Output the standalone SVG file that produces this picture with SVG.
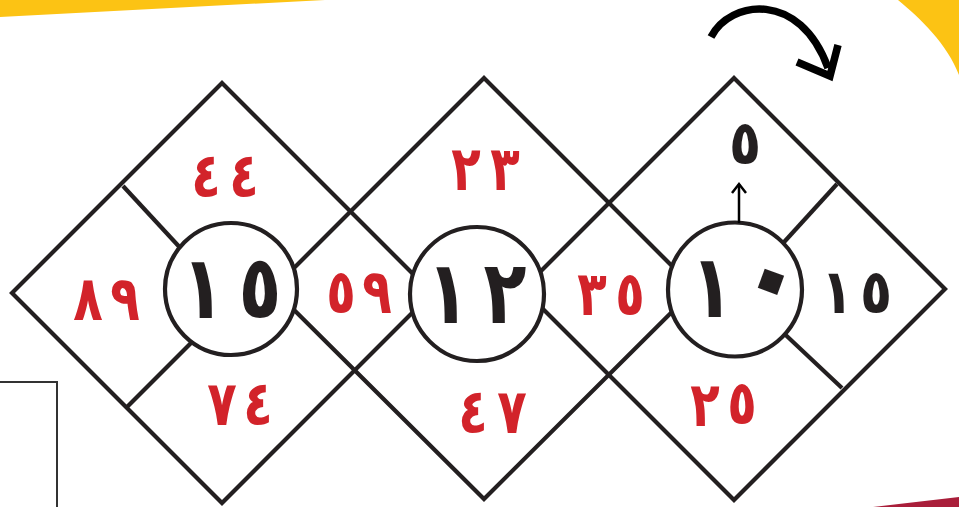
<svg xmlns="http://www.w3.org/2000/svg" width="959" height="507" viewBox="0 0 959 507">
<style>
.edge{fill:none;stroke:#231F20;stroke-width:4.2;stroke-linejoin:miter}
.hub{fill:#fff;stroke:#231F20;stroke-width:4.2}
.r{fill:#D2232A;font-family:"DejaVu Sans",sans-serif;font-weight:bold;font-size:62px;text-anchor:middle}
.b{fill:#231F20;font-family:"DejaVu Sans",sans-serif;font-weight:bold;font-size:88px;text-anchor:middle}
.m{fill:#231F20;font-family:"DejaVu Sans",sans-serif;font-weight:bold;font-size:62px;text-anchor:middle}
</style>
<rect width="959" height="507" fill="#fff"/>
<g id="decor">
<polygon points="0,0 325,0 0,17" fill="#FCC314"/>
<path d="M898,0 C920,18 948,45 959,75 L959,0 Z" fill="#FCC314"/>
<polygon points="873,507 959,497 959,507" fill="#A91E3A"/>
<polyline points="0,382 57,382 57,507" fill="none" stroke="#333" stroke-width="2"/>
</g>
<g id="diamond-1">
<polygon class="edge" points="222,83 432,293 222,503 12,293"/>
<line class="edge" x1="123" y1="186" x2="185" y2="253"/>
<line class="edge" x1="127" y1="407" x2="200" y2="334"/>
</g>
<g id="diamond-2">
<polygon class="edge" points="484,78 695,289 484,499 273,289"/>
</g>
<g id="diamond-3">
<polygon class="edge" points="734,78 945,289 734,500 523,289"/>
<line class="edge" x1="837" y1="184" x2="775" y2="252"/>
<line class="edge" x1="842" y1="388" x2="775" y2="325"/>
</g>
<g id="circle-1">
<circle class="hub" cx="231" cy="289" r="66"/>
<text class="b" transform="translate(203,318) scale(0.8,1)">١</text>
<text class="b" transform="translate(260,318) scale(0.8,1)">٥</text>
</g>
<g id="circle-2">
<circle class="hub" cx="477" cy="294" r="67"/>
<text class="b" transform="translate(448,323) scale(0.8,1)">١</text>
<text class="b" transform="translate(505,323) scale(0.8,1)">٢</text>
</g>
<g id="circle-3">
<circle class="hub" cx="735" cy="289.5" r="67"/>
<text class="b" transform="translate(712,317) scale(0.8,1)">١</text>
<text class="b" transform="translate(769,287) rotate(20) scale(1.35) translate(0,20.6)">٠</text>
</g>
<g id="labels">
<text class="r" transform="translate(206,197) scale(0.78,1)">٤</text>
<text class="r" transform="translate(244,197) scale(0.78,1)">٤</text>
<text class="r" transform="translate(88,320) scale(0.78,1)">٨</text>
<text class="r" transform="translate(125,320) scale(0.78,1)">٩</text>
<text class="r" transform="translate(222,425) scale(0.78,1)">٧</text>
<text class="r" transform="translate(258,425) scale(0.78,1)">٤</text>
<text class="r" transform="translate(341,313) scale(0.78,1)">٥</text>
<text class="r" transform="translate(377,313) scale(0.78,1)">٩</text>
<text class="r" transform="translate(466,190) scale(0.78,1)">٢</text>
<text class="r" transform="translate(505,190) scale(0.78,1)">٣</text>
<text class="r" transform="translate(473,433) scale(0.78,1)">٤</text>
<text class="r" transform="translate(512,433) scale(0.78,1)">٧</text>
<text class="r" transform="translate(592,315) scale(0.78,1)">٣</text>
<text class="r" transform="translate(630,315) scale(0.78,1)">٥</text>
<text class="r" transform="translate(705,426) scale(0.78,1)">٢</text>
<text class="r" transform="translate(742,424) scale(0.78,1)">٥</text>
<text class="m" transform="translate(837,313) scale(0.85,1)">١</text>
<text class="m" transform="translate(876,313) scale(0.85,1)">٥</text>
<text class="m" transform="translate(745,164) scale(0.85,1)">٥</text>
</g>
<g id="connectors">
<line x1="739" y1="223" x2="739" y2="184" stroke="#000" stroke-width="2.5"/>
<polyline points="732,193 739,184 746,193" fill="none" stroke="#000" stroke-width="2.5"/>
<path d="M711,37 C730,0 800,-10 828,68" fill="none" stroke="#000" stroke-width="7.5"/>
<polyline points="797,62 830,76 838,45" fill="none" stroke="#000" stroke-width="7.5" stroke-linejoin="miter"/>
</g>
</svg>
